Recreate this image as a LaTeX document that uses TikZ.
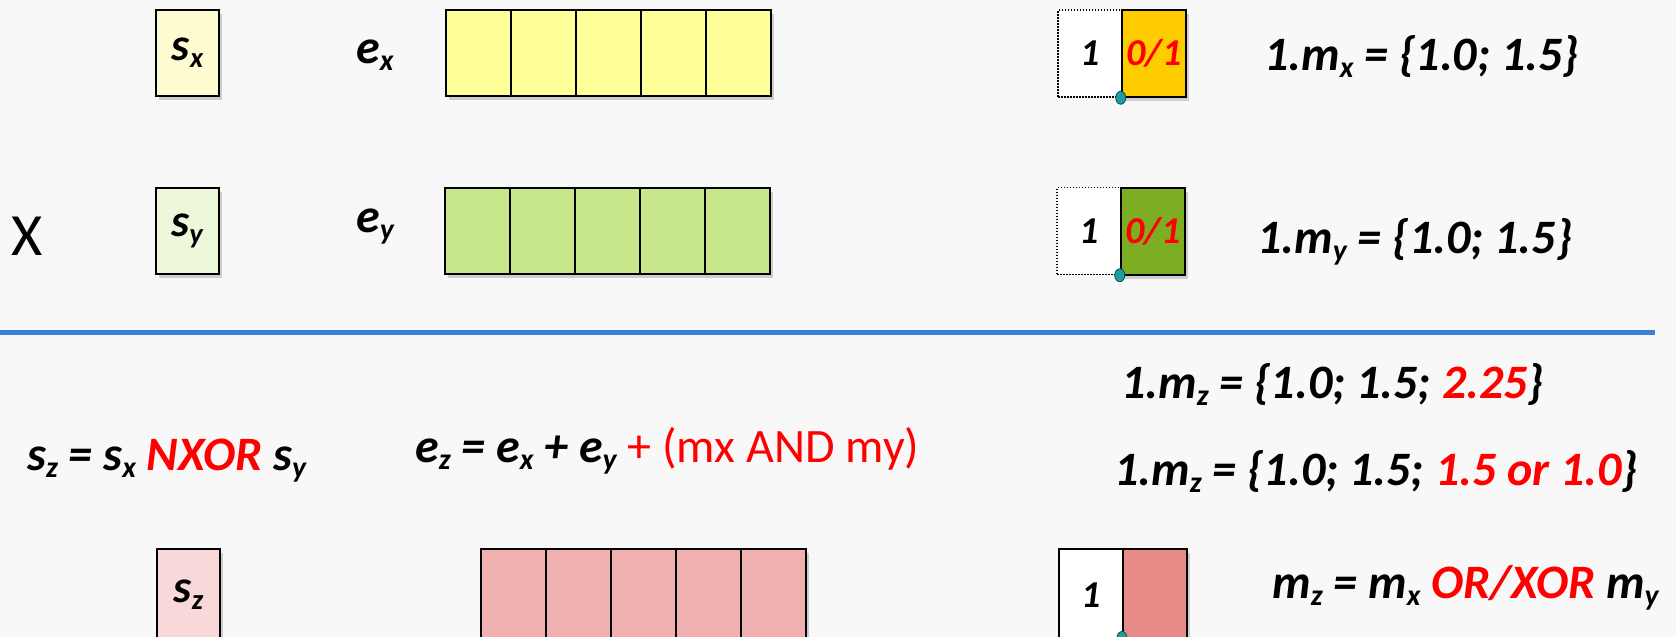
\documentclass[tikz,border=0pt]{standalone}
\usepackage{fontspec}
\setmainfont{Carlito}
\usepackage{xcolor}
\usepackage{tikz}
\usetikzlibrary{shapes.geometric, shadows, positioning}

\definecolor{bgpaper}{HTML}{F8F8F8}
\definecolor{shadowgray}{HTML}{CDCDCD}
\definecolor{signx}{HTML}{FFFCD2}
\definecolor{expx}{HTML}{FFFF99}
\definecolor{signy}{HTML}{EDF8DA}
\definecolor{expy}{HTML}{C8E68A}
\definecolor{mantx}{HTML}{FFCC00}
\definecolor{manty}{HTML}{7DAD22}
\definecolor{signz}{HTML}{F8D8D8}
\definecolor{expz}{HTML}{F0B0B0}
\definecolor{mantz}{HTML}{E88A88}
\definecolor{rulecol}{HTML}{3A7FD5}
\definecolor{dotcol}{HTML}{1E9CA2}
\definecolor{dotedge}{HTML}{0B4F56}

\newcommand{\lowidx}[1]{\raisebox{-0.16em}{\scalebox{0.62}{#1}}}

\tikzset{
    diagram/.style={font=\bfseries\itshape\fontsize{48}{56}\selectfont},
    diagram box/.style={draw, line width=2pt, inner sep=0pt,
        drop shadow={shadow xshift=3pt, shadow yshift=-4pt,
            fill=shadowgray, opacity=1}},
    diagram formula/.style={anchor=base west, inner sep=0pt},
    diagram rule/.style={line width=5pt, draw=rulecol},
}

\begin{document}
\begin{tikzpicture}[
    x=1pt, y=-1pt,
    diagram,
    sign box/.style={diagram box, minimum width=63, minimum height=86,
        font=\bfseries\itshape\fontsize{46}{52}\selectfont},
    exp cell/.style={diagram box, minimum width=65, minimum height=86},
    mant lead/.style={draw, dash pattern=on 1.5pt off 1.5pt, line width=1.5pt,
        fill=white, inner sep=0pt, minimum width=64, minimum height=87,
        font=\bfseries\itshape\fontsize{38}{44}\selectfont},
    mant box/.style={diagram box, minimum width=64, minimum height=87,
        font=\bfseries\itshape\fontsize{38}{44}\selectfont},
    lead dot/.style={ellipse, draw=dotedge, line width=0.8pt, fill=dotcol,
        inner sep=0pt, minimum width=10, minimum height=13},
    cut row/.style={minimum height=92},
  ]
    \fill[bgpaper] (0,0) rectangle (1676,637);
    \useasboundingbox (0,0) rectangle (1676,637);
    \clip (0,0) rectangle (1676,637);

    % operand x
    \node[sign box, fill=signx] (sx) at (187.5,53) {s\lowidx{x}};
    \node[diagram formula] (exlabel) at (356,63) {e\lowidx{x}};
    \node[exp cell, fill=expx] (ex1) at (478.5,53) {};
    \node[exp cell, fill=expx] (ex2) at (543.5,53) {};
    \node[exp cell, fill=expx] (ex3) at (608.5,53) {};
    \node[exp cell, fill=expx] (ex4) at (673.5,53) {};
    \node[exp cell, fill=expx] (ex5) at (738.5,53) {};
    \node[mant lead] (mxlead) at (1090,53.5) {1};
    \node[mant box, fill=mantx] (mxbits) at (1154,53.5) {\textcolor{red}{0/1}};
    \node[lead dot] (mxdot) at ([xshift=-2pt]mxlead.south east) {};
    \node[diagram formula] (mxtext) at (1264,70) {1.m\lowidx{x} = \{1.0; 1.5\}};

    % operand y
    \node[diagram formula, font=\mdseries\upshape\fontsize{60}{70}\selectfont]
        (times) at (11,255) {X};
    \node[sign box, fill=signy] (sy) at (187,231) {s\lowidx{y}};
    \node[diagram formula] (eylabel) at (356,232) {e\lowidx{y}};
    \node[exp cell, fill=expy] (ey1) at (477.5,231) {};
    \node[exp cell, fill=expy] (ey2) at (542.5,231) {};
    \node[exp cell, fill=expy] (ey3) at (607.5,231) {};
    \node[exp cell, fill=expy] (ey4) at (672.5,231) {};
    \node[exp cell, fill=expy] (ey5) at (737.5,231) {};
    \node[mant lead] (mylead) at (1089,231) {1};
    \node[mant box, fill=manty] (mybits) at (1153,231) {\textcolor{red}{0/1}};
    \node[lead dot] (mydot) at ([xshift=-2pt]mylead.south east) {};
    \node[diagram formula] (mytext) at (1257,253) {1.m\lowidx{y} = \{1.0; 1.5\}};

    \coordinate (ruleleft) at (0,332);
    \coordinate (ruleright) at (1655,332);
    \draw[diagram rule] (ruleleft) -- (ruleright);

    % result z
    \node[diagram formula] (sztext) at (27,470)
        {s\lowidx{z} = s\lowidx{x} \textcolor{red}{NXOR} s\lowidx{y}};
    \node[diagram formula] (eztext) at (415,462)
        {e\lowidx{z} = e\lowidx{x} + e\lowidx{y} {\color{red}\mdseries\upshape + (mx AND my)}};
    \node[diagram formula] (mzfirst) at (1121,398)
        {1.m\lowidx{z} = \{1.0; 1.5; \textcolor{red}{2.25}\}};
    \node[diagram formula] (mzsecond) at (1114,485)
        {1.m\lowidx{z} = \{1.0; 1.5; \textcolor{red}{1.5 or 1.0}\}};

    \node[sign box, cut row, fill=signz] (sz) at (188.5,595) {s\lowidx{z}};
    \node[exp cell, cut row, fill=expz] (ez1) at (513.5,595) {};
    \node[exp cell, cut row, fill=expz] (ez2) at (578.5,595) {};
    \node[exp cell, cut row, fill=expz] (ez3) at (643.5,595) {};
    \node[exp cell, cut row, fill=expz] (ez4) at (708.5,595) {};
    \node[exp cell, cut row, fill=expz] (ez5) at (773.5,595) {};
    \node[mant box, cut row, fill=white] (mzlead) at (1091,595) {1};
    \node[mant box, cut row, fill=mantz] (mzbits) at (1155,595) {};
    \node[lead dot] (mzdot) at ([xshift=-2pt, yshift=4pt]mzlead.south east) {};
    \node[diagram formula] (mztext) at (1272,598)
        {m\lowidx{z} = m\lowidx{x} \textcolor{red}{OR/XOR} m\lowidx{y}};
  \end{tikzpicture}
\end{document}
